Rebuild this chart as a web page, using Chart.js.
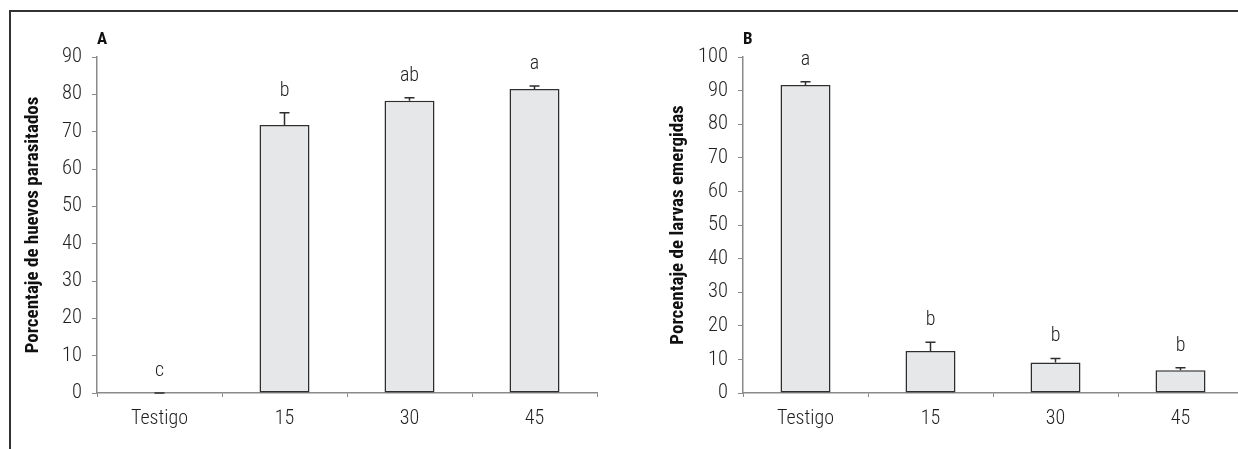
<!DOCTYPE html>
<html>
<head>
<meta charset="utf-8">
<script src="https://cdn.jsdelivr.net/npm/chart.js@4/dist/chart.umd.min.js"></script>
<style>
  html, body { margin: 0; padding: 0; background: #fff; width: 1238px; height: 449px; overflow: hidden; }
  #frame { position: absolute; left: 9px; top: 10px; width: 1250px; height: 460px;
           border-top: 2px solid #333; border-left: 2px solid #333; }
  #wrapA { position: absolute; left: 0; top: 0; width: 620px; height: 449px; }
  #wrapB { position: absolute; left: 620px; top: 0; width: 630px; height: 449px; }
  canvas { display: block; }
</style>
</head>
<body>
<div id="frame"></div>
<div id="wrapA"><canvas id="chartA" width="620" height="449"></canvas></div>
<div id="wrapB"><canvas id="chartB" width="630" height="449"></canvas></div>
<script>
// Treatments (days)
const categories = ['Testigo', '15', '30', '45'];

// A: parasitized eggs (%), standard error, significance letters
const parasitizedPct = [0, 71.8, 78.3, 81.4];
const parasitizedSE = [0, 3.3, 0.8, 0.8];
const parasitizedLetters = ['c', 'b', 'ab', 'a'];

// B: emerged larvae (%), standard error, significance letters
const emergedPct = [91.7, 12.5, 9.1, 6.8];
const emergedSE = [0.9, 2.6, 1.2, 0.7];
const emergedLetters = ['a', 'b', 'b', 'b'];

// Y axis ranges
const yMaxA = 90;
const yMaxB = 100;
const yStep = 10;

const FONT = '"Roboto Condensed", Roboto, "DejaVu Sans Condensed", sans-serif';
const TEXT = '#1f1f1f';
const AXIS = '#8a8a8a';
const INK = '#2e2e2e';

// Error bars (upper whisker only), letters above them and the panel tag
const annotations = {
  id: 'annotations',
  afterDatasetsDraw(chart, args, opts) {
    const ctx = chart.ctx;
    const meta = chart.getDatasetMeta(0);
    const ys = chart.scales.y;
    const ds = chart.data.datasets[0];
    ctx.save();
    meta.data.forEach((bar, i) => {
      const v = ds.data[i];
      const top = ys.getPixelForValue(v + opts.errors[i]);
      const base = ys.getPixelForValue(v);
      ctx.strokeStyle = INK;
      ctx.lineWidth = 1.5;
      ctx.beginPath();
      ctx.moveTo(bar.x, base);
      ctx.lineTo(bar.x, top);
      ctx.moveTo(bar.x - 5, top);
      ctx.lineTo(bar.x + 5, top);
      ctx.stroke();
      ctx.fillStyle = TEXT;
      ctx.font = '300 20px ' + FONT;
      ctx.textAlign = 'center';
      ctx.textBaseline = 'middle';
      ctx.fillText(opts.letters[i], bar.x, top - 22);
    });
    ctx.font = 'bold 17px ' + FONT;
    ctx.textAlign = 'left';
    ctx.textBaseline = 'middle';
    ctx.fillStyle = '#111';
    ctx.fillText(opts.tag, chart.chartArea.left, chart.chartArea.top - 17);
    ctx.restore();
  }
};

function makeChart(id, values, errors, letters, yMax, title, tag, layout) {
  return new Chart(document.getElementById(id), {
    type: 'bar',
    data: {
      labels: categories,
      datasets: [{
        data: values,
        backgroundColor: '#e6e7e8',
        borderColor: INK,
        borderWidth: 1.5,
        borderSkipped: false,
        categoryPercentage: 1.0,
        barPercentage: 0.4
      }]
    },
    options: {
      responsive: false,
      devicePixelRatio: 1,
      animation: false,
      layout: { padding: { left: layout.left, right: layout.right, top: 57, bottom: 0 } },
      plugins: {
        legend: { display: false },
        tooltip: { enabled: false },
        annotations: { errors, letters, tag }
      },
      scales: {
        x: {
          offset: true,
          grid: { offset: true, drawOnChartArea: false, drawTicks: true, tickLength: 4, color: AXIS, lineWidth: 1 },
          border: { display: true, color: AXIS, width: 1.5 },
          ticks: { color: TEXT, font: { family: FONT, size: 20, weight: 300 }, padding: 10, maxRotation: 0 },
          afterFit(s) { s.height = 56; }
        },
        y: {
          min: 0, max: yMax,
          ticks: { stepSize: yStep, color: TEXT, font: { family: FONT, size: 20.5, weight: 300 }, padding: 10 },
          grid: { drawOnChartArea: false, drawTicks: true, tickLength: 5, color: AXIS, lineWidth: 1 },
          border: { display: true, color: AXIS, width: 1.5 },
          title: {
            display: true, text: title, color: '#111',
            font: { family: FONT, size: 19, weight: 'bold' },
            padding: { top: layout.titlePad, bottom: 0 }
          },
          afterFit(s) { s.width = layout.axisWidth; }
        }
      }
    },
    plugins: [annotations]
  });
}

makeChart('chartA', parasitizedPct, parasitizedSE, parasitizedLetters, yMaxA,
  'Porcentaje de huevos parasitados', 'A',
  { left: 10, right: 23, axisWidth: 87, titlePad: 11.6 });

makeChart('chartB', emergedPct, emergedSE, emergedLetters, yMaxB,
  'Porcentaje de larvas emergidas', 'B',
  { left: 30, right: 7, axisWidth: 93, titlePad: 16.6 });
</script>
</body>
</html>
